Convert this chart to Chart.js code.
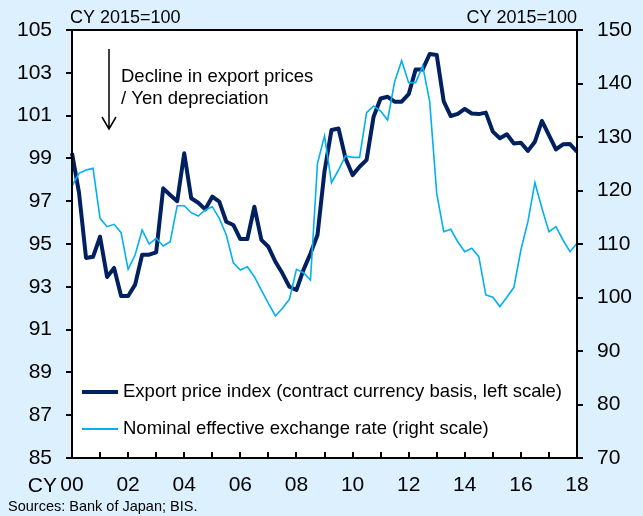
<!DOCTYPE html>
<html>
<head>
<meta charset="utf-8">
<script src="https://cdn.jsdelivr.net/npm/chart.js@4.4.1/dist/chart.umd.min.js"></script>
<style>
html,body{margin:0;padding:0;background:#ddf0fd;}
</style>
</head>
<body>
<canvas id="chart" width="643" height="516"></canvas>
<script>
// quarterly data, 2000Q1 .. 2018Q1
const quarters = [];
for (var y = 2000; y <= 2018; y++) {
    for (var q = 1; q <= 4; q++) {
        if (quarters.length < 73) quarters.push(y + 'Q' + q);
    }
}
const yearLabels = ['00','02','04','06','08','10','12','14','16','18'];

// export price index (contract currency basis), left scale
const exportPrice = [
    99.25, 97.4, 94.35, 94.4, 95.34, 93.46, 93.88, 92.57,
    92.57, 93.1, 94.5, 94.5, 94.61, 97.6, 97.29, 97.0,
    99.24, 97.14, 96.93, 96.62, 97.21, 96.98, 96.04, 95.89,
    95.23, 95.23, 96.74, 95.19, 94.87, 94.17, 93.63, 93.0,
    92.85, 93.79, 94.56, 95.42, 98.4, 100.33, 100.4, 99.0,
    98.22, 98.61, 98.93, 100.95, 101.8, 101.88, 101.65, 101.65,
    102.0, 103.16, 103.16, 103.88, 103.83, 101.66, 100.98, 101.08,
    101.31, 101.1, 101.07, 101.14, 100.25, 99.94, 100.13, 99.7,
    99.73, 99.35, 99.78, 100.75, 100.09, 99.42, 99.66, 99.67,
    99.31
];

// nominal effective exchange rate, right scale
const neer = [
    120.84, 123.2, 123.83, 124.14, 114.8, 113.24, 113.68, 112.11,
    105.27, 107.94, 112.62, 110.0, 111.06, 109.63, 110.43, 117.16,
    117.16, 115.85, 115.23, 116.36, 116.97, 114.8, 111.68, 106.5,
    105.14, 105.76, 103.89, 101.4, 98.9, 96.54, 97.98, 99.66,
    105.27, 104.64, 103.27, 125.08, 130.19, 121.46, 123.83, 126.45,
    126.2, 126.2, 134.54, 135.8, 134.86, 133.18, 140.34, 144.27,
    140.16, 140.16, 143.27, 136.6, 119.47, 112.3, 112.74, 110.43,
    108.57, 109.2, 107.63, 100.47, 100.04, 98.3, 100.04, 101.9,
    108.88, 114.17, 121.46, 116.67, 112.3, 113.24, 110.75, 108.57,
    110.13
];

const FONT = "'Liberation Sans', Arial, sans-serif";
const DARK = '#002060';
const LIGHT = '#00b0f0';

const decor = {
    id: 'decor',
    beforeDraw(chart) {
        var ctx = chart.ctx, a = chart.chartArea;
        ctx.save();
        ctx.fillStyle = '#ddf0fd';
        ctx.fillRect(0, 0, chart.width, chart.height);
        ctx.fillStyle = '#ffffff';
        ctx.fillRect(a.left, a.top, a.right - a.left, a.bottom - a.top);
        ctx.restore();
    },
    afterDraw(chart) {
        var ctx = chart.ctx, a = chart.chartArea;
        var xs = chart.scales.x;
        ctx.save();
        // box
        ctx.strokeStyle = '#000';
        ctx.lineWidth = 2;
        ctx.strokeRect(a.left, a.top, a.right - a.left, a.bottom - a.top);
        // yearly ticks pointing inward
        ctx.beginPath();
        for (var i = 0; i < quarters.length; i += 4) {
            var px = Math.round(xs.getPixelForValue(i));
            ctx.moveTo(px, a.bottom);
            ctx.lineTo(px, a.bottom - 6);
        }
        ctx.stroke();

        ctx.fillStyle = '#000';
        ctx.textBaseline = 'alphabetic';
        ctx.font = '18px ' + FONT;
        ctx.textAlign = 'left';
        ctx.fillText('CY 2015=100', a.left - 2, 23);
        ctx.textAlign = 'right';
        ctx.fillText('CY 2015=100', a.right, 23);

        // "CY" in front of the first year label
        ctx.font = '21px ' + FONT;
        ctx.textAlign = 'right';
        ctx.textBaseline = 'middle';
        ctx.fillText('CY', a.left - 15, 486);

        ctx.font = '14.5px ' + FONT;
        ctx.textAlign = 'left';
        ctx.fillText('Sources: Bank of Japan; BIS.', 8, 507);

        // annotation
        ctx.lineWidth = 1.5;
        ctx.beginPath();
        ctx.moveTo(109, 49);
        ctx.lineTo(109, 129);
        ctx.moveTo(102, 117);
        ctx.lineTo(109, 129);
        ctx.lineTo(116, 117);
        ctx.stroke();
        ctx.font = '18.5px ' + FONT;
        ctx.fillText('Decline in export prices', 121, 77);
        ctx.fillText('/ Yen depreciation', 121, 99);

        // legend
        ctx.lineWidth = 4;
        ctx.strokeStyle = DARK;
        ctx.beginPath();
        ctx.moveTo(82, 392);
        ctx.lineTo(118, 392);
        ctx.stroke();
        ctx.lineWidth = 2;
        ctx.strokeStyle = LIGHT;
        ctx.beginPath();
        ctx.moveTo(82, 429);
        ctx.lineTo(118, 429);
        ctx.stroke();
        ctx.fillStyle = '#000';
        ctx.fillText('Export price index (contract currency basis, left scale)', 123, 392);
        ctx.fillText('Nominal effective exchange rate (right scale)', 123, 429);
        ctx.restore();
    }
};

const config = {
    type: 'line',
    data: {
        labels: quarters,
        datasets: [{
            label: 'Export price index (contract currency basis, left scale)',
            data: exportPrice,
            yAxisID: 'y',
            borderColor: DARK,
            borderWidth: 4,
            borderJoinStyle: 'round',
            pointRadius: 0,
            tension: 0,
            order: 1
        }, {
            label: 'Nominal effective exchange rate (right scale)',
            data: neer,
            yAxisID: 'y1',
            borderColor: LIGHT,
            borderWidth: 1.6,
            pointRadius: 0,
            tension: 0,
            order: 0
        }]
    },
    options: {
        responsive: false,
        animation: false,
        layout: { padding: { top: 30, left: 0, right: 0, bottom: 0 } },
        plugins: {
            legend: { display: false },
            tooltip: { enabled: false }
        },
        scales: {
            x: {
                offset: false,
                grid: { display: false, drawTicks: false },
                border: { display: false },
                ticks: {
                    autoSkip: false,
                    maxRotation: 0,
                    padding: 15,
                    color: '#000',
                    font: { family: FONT, size: 21 },
                    callback: function(val, idx) {
                        return idx % 8 === 0 ? yearLabels[idx / 8] : '';
                    }
                },
                afterFit: function(s) { s.height = 58; }
            },
            y: {
                position: 'left',
                min: 85,
                max: 105,
                grid: { drawOnChartArea: false, tickLength: 6, color: '#000', lineWidth: 2 },
                border: { display: false },
                ticks: {
                    stepSize: 2,
                    padding: 14,
                    color: '#000',
                    font: { family: FONT, size: 21 }
                },
                afterFit: function(s) { s.width = 72; }
            },
            y1: {
                position: 'right',
                min: 70,
                max: 150,
                grid: { drawOnChartArea: false, tickLength: 6, color: '#000', lineWidth: 2 },
                border: { display: false },
                ticks: {
                    stepSize: 10,
                    padding: 14,
                    color: '#000',
                    font: { family: FONT, size: 21 }
                },
                afterFit: function(s) { s.width = 66; }
            }
        }
    },
    plugins: [decor]
};

var chart = new Chart(document.getElementById('chart'), config);
</script>
</body>
</html>
